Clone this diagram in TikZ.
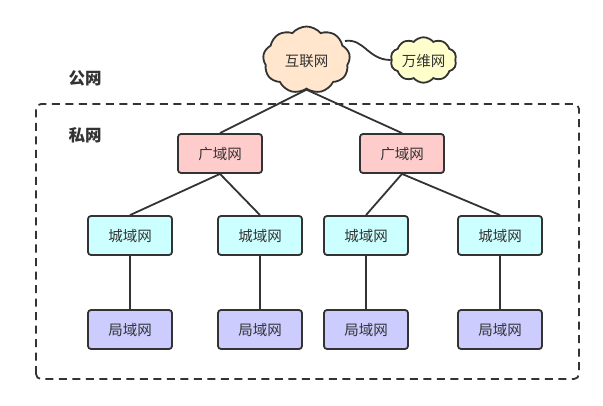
\documentclass[tikz,border=0pt]{standalone}
\usepackage{fontspec}
\setmainfont{Noto Sans CJK SC}
\usepackage{xcolor}
\usetikzlibrary{shapes.symbols}
\definecolor{inkgray}{RGB}{51,51,51}
\definecolor{wanred}{RGB}{255,204,204}
\definecolor{mancyan}{RGB}{204,255,255}
\definecolor{lanblue}{RGB}{204,204,255}
\definecolor{netorange}{RGB}{255,230,204}
\definecolor{webyellow}{RGB}{255,255,204}
\tikzset{wannode/.style={rectangle, rounded corners=3pt, fill=wanred, draw=inkgray, line width=1.8pt, minimum width=84pt, minimum height=39pt, inner sep=0pt, text=inkgray, text height=12.6pt, text depth=0pt, font=\fontsize{14.5pt}{16pt}\selectfont},
mannode/.style={wannode, fill=mancyan},
lannode/.style={wannode, fill=lanblue},
bigcloudnode/.style={cloud, cloud puffs=9, cloud puff arc=100, aspect=1.3, fill=netorange, draw=inkgray, line width=1.8pt, minimum width=87pt, minimum height=67pt, inner sep=0pt, text=inkgray, text height=12.6pt, text depth=0pt, font=\fontsize{14.5pt}{16pt}\selectfont},
smallcloudnode/.style={bigcloudnode, cloud puffs=10, aspect=1.6, fill=webyellow, minimum width=66pt, minimum height=41pt},
zonelabel/.style={inner sep=0pt, text=inkgray, font=\fontsize{16.5pt}{18pt}\selectfont\bfseries},
linkline/.style={draw=inkgray, line width=1.8pt}}
\begin{document}
\begin{tikzpicture}
    \useasboundingbox (0pt, 0pt) rectangle (603pt, 405pt);

    % Private zone
    \draw[inkgray, line width=1.8pt, rounded corners=5pt, dash pattern=on 8pt off 5.5pt] (36pt, 26pt) rectangle (579pt, 301pt);
    \node[zonelabel] (public) at (85pt, 326.5pt) {公网};
    \node[zonelabel] (private) at (85pt, 269.5pt) {私网};

    % Clouds
    \node[bigcloudnode] (internet) at (306.5pt, 345pt) {互联网};
    \node[smallcloudnode] (web) at (423.5pt, 345pt) {万维网};

    % Networks
    \foreach \name/\x in {wanleft/220pt, wanright/402pt} {
\node[wannode] (\name) at (\x, 251.5pt) {广域网};
}
    \foreach \name/\x in {manone/130pt, mantwo/260pt, manthree/366pt, manfour/500pt} {
\node[mannode] (\name) at (\x, 169.5pt) {城域网};
}
    \foreach \name/\x in {lanone/130pt, lantwo/260pt, lanthree/366pt, lanfour/500pt} {
\node[lannode] (\name) at (\x, 75.5pt) {局域网};
}

    % Links
    \coordinate (webstart) at (345pt, 364pt);
    \draw[linkline] (webstart) .. controls (364pt, 367pt) and (368pt, 345pt) .. (web.west);
    \foreach \up/\down in {internet/wanleft, internet/wanright} {
\draw[linkline] (\up.south) -- (\down.north);
}
    \foreach \up/\down in {wanleft/manone, wanleft/mantwo, wanright/manthree, wanright/manfour} {
\draw[linkline] (\up.south) -- (\down.north);
}
    \foreach \up/\down in {manone/lanone, mantwo/lantwo, manthree/lanthree, manfour/lanfour} {
\draw[linkline] (\up.south) -- (\down.north);
}
\end{tikzpicture}
\end{document}
